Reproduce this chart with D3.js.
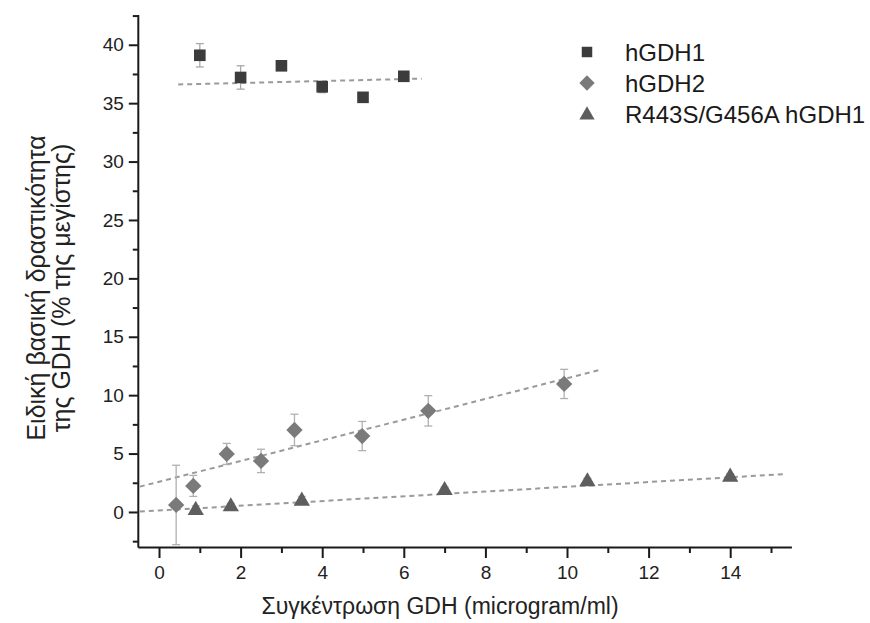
<!DOCTYPE html>
<html><head><meta charset="utf-8">
<script src="https://cdn.jsdelivr.net/npm/d3@7"></script>
<style>body{margin:0;background:#fff;} text{font-family:"Liberation Sans",Arial,sans-serif;}</style>
</head><body>
<svg id="c" width="870" height="623"></svg>
<script>
// ---- data ----
const seriesNames = ["hGDH1", "hGDH2", "R443S/G456A hGDH1"];
const hGDH1_x = [1, 2, 3, 4, 5, 6];
const hGDH1_y = [39.1, 37.2, 38.2, 36.4, 35.5, 37.3];
const hGDH1_err = [1.0, 1.0, 0.2, 0.5, 0.2, 0.2];
const hGDH2_x = [0.42, 0.84, 1.66, 2.5, 3.32, 4.98, 6.6, 9.93];
const hGDH2_y = [0.6, 2.23, 4.97, 4.37, 7.02, 6.5, 8.66, 10.96];
const hGDH2_err = [3.4, 0.9, 0.9, 1.0, 1.35, 1.25, 1.3, 1.25];
const mut_x = [0.9, 1.76, 3.5, 7.0, 10.5, 14.0];
const mut_y = [0.23, 0.54, 1.03, 1.94, 2.68, 3.08];
const mut_err = [0.3, 0.2, 0.3, 0.2, 0.2, 0.2];
const fit_hGDH1 = [[0.47, 36.6], [6.44, 37.1]];
const fit_hGDH2 = [[-0.47, 2.17], [10.8, 12.16]];
const fit_mut = [[-0.47, 0.03], [15.3, 3.23]];
const xMajorTicks = [0, 2, 4, 6, 8, 10, 12, 14];
const xMinorTicks = [1, 3, 5, 7, 9, 11, 13, 15];
const yMajorTicks = [0, 5, 10, 15, 20, 25, 30, 35, 40];
const yMinorTicks = [-2.5, 2.5, 7.5, 12.5, 17.5, 22.5, 27.5, 32.5, 37.5, 42.5];
const xTitle = "Συγκέντρωση GDH (microgram/ml)";
const yTitle1 = "Ειδική βασική δραστικότητα";
const yTitle2 = "της GDH (% της μεγίστης)";

const svg = d3.select("#c");
const x = d3.scaleLinear().domain([-0.52, 15.5]).range([137.8, 791.4]);
const y = d3.scaleLinear().domain([-3.0, 42.6]).range([547, 14.4]);

const axisCol = "#1a1a1a";
// minor ticks
svg.append("g").attr("transform", `translate(0,${y(-3.0)})`)
  .call(d3.axisBottom(x).tickValues(xMinorTicks).tickSize(6).tickFormat(""))
  .call(g => g.select(".domain").remove());
svg.append("g").attr("transform", `translate(${x(-0.52)},0)`)
  .call(d3.axisLeft(y).tickValues(yMinorTicks).tickSize(5).tickFormat(""))
  .call(g => g.select(".domain").remove());
// major
const gx = svg.append("g").attr("transform", `translate(0,${y(-3.0)})`)
  .call(d3.axisBottom(x).tickValues(xMajorTicks).tickSize(11).tickSizeOuter(0).tickPadding(8));
const gy = svg.append("g").attr("transform", `translate(${x(-0.52)},0)`)
  .call(d3.axisLeft(y).tickValues(yMajorTicks).tickSize(9).tickSizeOuter(0).tickPadding(5));
svg.selectAll(".tick line").attr("stroke", axisCol).attr("stroke-width", 2);
svg.selectAll(".domain").attr("stroke", axisCol).attr("stroke-width", 2);
gx.selectAll(".tick text").attr("font-size", 19).attr("fill", "#222");
gy.selectAll(".tick text").attr("font-size", 19).attr("fill", "#222");

// fit lines
const line = d3.line().x(d => x(d[0])).y(d => y(d[1]));
[fit_hGDH1, fit_hGDH2, fit_mut].forEach(f => {
  svg.append("path").attr("d", line(f)).attr("fill", "none")
    .attr("stroke", "#9a9a9a").attr("stroke-width", 2).attr("stroke-dasharray", "5,4");
});

// error bars
function errBars(xs, ys, es, col) {
  const g = svg.append("g").attr("stroke", col).attr("stroke-width", 1.3);
  xs.forEach((xv, i) => {
    const cx = x(xv), y1 = y(ys[i] + es[i]), y2 = y(ys[i] - es[i]);
    g.append("line").attr("x1", cx).attr("x2", cx).attr("y1", y1).attr("y2", y2);
    g.append("line").attr("x1", cx - 4).attr("x2", cx + 4).attr("y1", y1).attr("y2", y1);
    g.append("line").attr("x1", cx - 4).attr("x2", cx + 4).attr("y1", y2).attr("y2", y2);
  });
}
errBars(hGDH1_x, hGDH1_y, hGDH1_err, "#a8a8a8");
errBars(hGDH2_x, hGDH2_y, hGDH2_err, "#b0b0b0");
errBars(mut_x, mut_y, mut_err, "#b8b8b8");

const colSq = "#3c3c3c", colDi = "#7a7a7a", colTr = "#5e5e5e";
const sq = d3.symbol().type(d3.symbolSquare).size(135);
const di = d3.symbol().type(d3.symbolDiamond2).size(170);
const tr = d3.symbol().type(d3.symbolTriangle).size(115);
const sqL = d3.symbol().type(d3.symbolSquare).size(110);
const diL = d3.symbol().type(d3.symbolDiamond2).size(150);
const trL = d3.symbol().type(d3.symbolTriangle).size(100);
function markers(xs, ys, sym, col, dy) {
  svg.append("g").selectAll("path").data(xs).join("path")
    .attr("d", sym).attr("fill", col)
    .attr("transform", (d, i) => `translate(${x(d)},${y(ys[i]) + (dy || 0)})`);
}
markers(hGDH1_x, hGDH1_y, sq, colSq);
markers(hGDH2_x, hGDH2_y, di, colDi);
markers(mut_x, mut_y, tr, colTr, 1);

// legend
const legY = [52, 83, 114];
const legSym = [sqL, diL, trL], legCol = [colSq, colDi, colTr];
const lg = svg.append("g");
seriesNames.forEach((n, i) => {
  lg.append("path").attr("d", legSym[i]).attr("fill", legCol[i])
    .attr("transform", `translate(587,${legY[i] + (i === 2 ? 1 : 0)})`);
  lg.append("text").attr("x", 625).attr("y", legY[i]).attr("dy", "0.36em")
    .attr("font-size", 24).attr("fill", "#1a1a1a").text(n);
});

// titles
svg.append("text").attr("x", 440).attr("y", 614).attr("text-anchor", "middle")
  .attr("font-size", 23).attr("fill", "#222").text(xTitle);
svg.append("text").attr("transform", "translate(45,288) rotate(-90)").attr("text-anchor", "middle")
  .attr("font-size", 25).attr("fill", "#222").text(yTitle1);
svg.append("text").attr("transform", "translate(70,288) rotate(-90)").attr("text-anchor", "middle")
  .attr("font-size", 25).attr("fill", "#222").text(yTitle2);
</script>
</body></html>
